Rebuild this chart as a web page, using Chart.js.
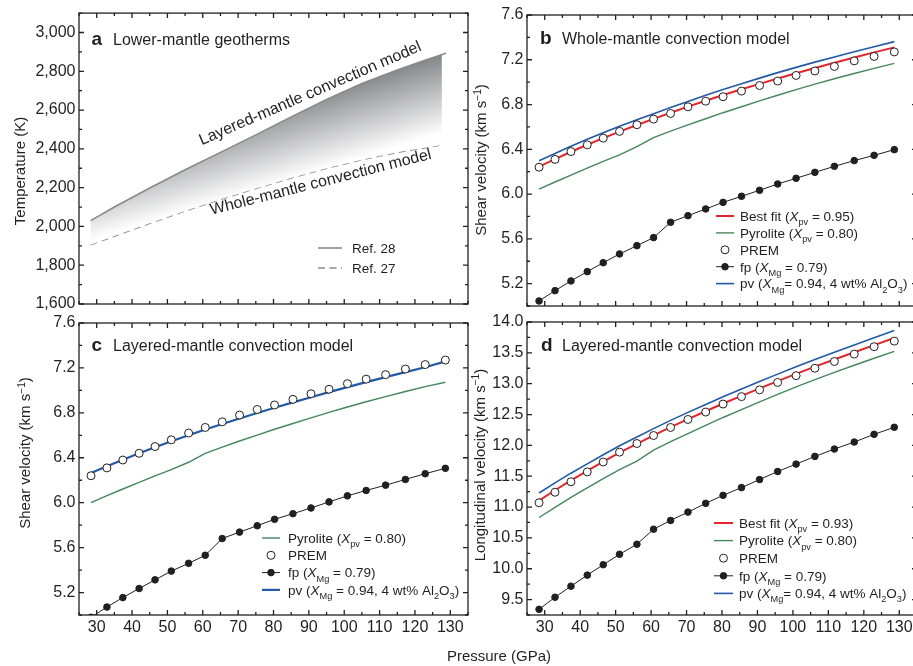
<!DOCTYPE html>
<html lang="en">
<head>
<meta charset="UTF-8">
<title>Lower-mantle geotherms and seismic velocities</title>
<script src="https://cdn.jsdelivr.net/npm/chart.js"></script>
<style>
  html, body { margin: 0; padding: 0; background: #fff; }
  #fig { position: relative; width: 913px; height: 666px; overflow: hidden; background: #fff; }
  #fig canvas { position: absolute; left: 0; top: 0; }
</style>
</head>
<body>
<div id="fig">
  <canvas id="panelA" width="930" height="666"></canvas>
  <canvas id="panelB" width="930" height="666"></canvas>
  <canvas id="panelC" width="930" height="666"></canvas>
  <canvas id="panelD" width="930" height="666"></canvas>
</div>
<script>
// pressure (GPa) of the PREM sampling points, used by panels b-d
const pressure = [28.4, 32.9, 37.4, 42.0, 46.5, 51.1, 56.0, 60.7, 65.5, 70.4, 75.4,
                  80.3, 85.5, 90.6, 95.7, 100.9, 106.2, 111.7, 117.3, 122.9, 128.6];

// PREM reference velocities (km/s)
const premVs = [6.24, 6.31, 6.38, 6.44, 6.50, 6.56, 6.62, 6.67, 6.72, 6.78, 6.83,
                6.87, 6.92, 6.97, 7.01, 7.06, 7.10, 7.14, 7.19, 7.23, 7.27];
const premVp = [11.07, 11.24, 11.41, 11.57, 11.73, 11.89, 12.03, 12.16, 12.29, 12.42, 12.54,
                12.67, 12.79, 12.90, 13.02, 13.13, 13.25, 13.36, 13.48, 13.60, 13.69];

// b: shear velocity, whole-mantle geotherm
const vsBestWhole = [6.245, 6.312, 6.378, 6.441, 6.500, 6.558, 6.617, 6.672, 6.727, 6.781, 6.834,
                     6.885, 6.936, 6.985, 7.033, 7.080, 7.127, 7.173, 7.220, 7.266, 7.311];
const vsPyroliteWhole = [6.045, 6.108, 6.170, 6.232, 6.292, 6.350, 6.425, 6.505, 6.562, 6.618, 6.673,
                         6.727, 6.780, 6.832, 6.883, 6.933, 6.982, 7.030, 7.077, 7.123, 7.168];
const vsFpWhole = [5.045, 5.137, 5.224, 5.307, 5.387, 5.465, 5.539, 5.611, 5.748, 5.807, 5.867,
                   5.926, 5.980, 6.034, 6.090, 6.141, 6.194, 6.248, 6.299, 6.346, 6.397];
const vsPvWhole = [6.298, 6.362, 6.427, 6.489, 6.548, 6.605, 6.663, 6.718, 6.773, 6.828, 6.882,
                   6.934, 6.986, 7.036, 7.085, 7.132, 7.179, 7.225, 7.271, 7.317, 7.362];

// c: shear velocity, layered-mantle geotherm
const vsPyroliteLayered = [6.001, 6.062, 6.122, 6.181, 6.238, 6.295, 6.360, 6.440, 6.495, 6.549, 6.602,
                           6.654, 6.705, 6.755, 6.804, 6.852, 6.899, 6.945, 6.990, 7.034, 7.072];
const vsFpLayered = [4.980, 5.071, 5.155, 5.236, 5.313, 5.391, 5.460, 5.532, 5.681, 5.738, 5.795,
                     5.852, 5.902, 5.953, 6.007, 6.061, 6.109, 6.156, 6.207, 6.258, 6.306];
const vsPvLayered = [6.265, 6.325, 6.383, 6.440, 6.494, 6.547, 6.600, 6.651, 6.701, 6.750, 6.799,
                     6.846, 6.893, 6.939, 6.984, 7.029, 7.074, 7.118, 7.162, 7.206, 7.258];

// d: longitudinal velocity, layered-mantle geotherm
const vpBestLayered = [11.105, 11.272, 11.432, 11.585, 11.735, 11.882, 12.025, 12.162, 12.295, 12.425, 12.553,
                       12.679, 12.802, 12.923, 13.042, 13.160, 13.277, 13.393, 13.509, 13.625, 13.740];
const vpPyroliteLayered = [10.831, 10.996, 11.156, 11.311, 11.461, 11.606, 11.746, 11.924, 12.059, 12.192, 12.323,
                           12.452, 12.579, 12.704, 12.827, 12.948, 13.067, 13.184, 13.299, 13.412, 13.523];
const vpFpLayered = [9.342, 9.538, 9.717, 9.896, 10.065, 10.234, 10.397, 10.641, 10.783, 10.918, 11.060,
                     11.190, 11.315, 11.446, 11.576, 11.696, 11.821, 11.940, 12.054, 12.179, 12.293];
const vpPvLayered = [11.228, 11.392, 11.549, 11.700, 11.848, 11.993, 12.135, 12.272, 12.405, 12.535, 12.663,
                     12.789, 12.913, 13.035, 13.155, 13.274, 13.392, 13.510, 13.628, 13.746, 13.864];

// a: geotherms (pressure in GPa, temperature in K)
const layeredP = [28.3, 35, 45, 55, 65, 75, 85, 95, 105, 115, 122, 128.8];
const layeredT = [2030, 2100, 2198, 2292, 2382, 2472, 2565, 2655, 2737, 2807, 2852, 2893];
const wholeP = [28.3, 35, 45, 55, 65, 75, 85, 95, 105, 115, 127.6];
const wholeT = [1906, 1950, 2016, 2080, 2140, 2196, 2250, 2300, 2344, 2382, 2420];

// tick labels
const pressureTicks = [30, 40, 50, 60, 70, 80, 90, 100, 110, 120, 130];
const tempTicks = [1600, 1800, 2000, 2200, 2400, 2600, 2800, 3000];
const vsTicks = [5.2, 5.6, 6.0, 6.4, 6.8, 7.2, 7.6];
const vpTicks = [9.5, 10.0, 10.5, 11.0, 11.5, 12.0, 12.5, 13.0, 13.5, 14.0];

const FONT = '"Liberation Sans", Arial, Helvetica, sans-serif';
const INK = '#231f20';
const RED = '#e4252b';
const GREEN = '#45875c';
const BLUE = '#2159a5';

const pts = (xs, ys) => xs.map((x, i) => ({ x: x, y: ys[i] }));

// rich text: list of [text, kind] with kind '', 'i', 'b', 'sub' or 'sup'
function pieceFont(size, kind) {
  const s = (kind === 'sub' || kind === 'sup') ? size * 0.68 : size;
  const style = kind === 'i' ? 'italic ' : (kind === 'b' ? 'bold ' : '');
  return style + s + 'px ' + FONT;
}
function richWidth(ctx, pieces, size) {
  let w = 0;
  pieces.forEach(([t, k]) => { ctx.font = pieceFont(size, k); w += ctx.measureText(t).width; });
  return w;
}
function drawRich(ctx, pieces, x, y, size) {
  pieces.forEach(([t, k]) => {
    ctx.font = pieceFont(size, k);
    const dy = k === 'sub' ? size * 0.3 : (k === 'sup' ? -size * 0.38 : 0);
    ctx.fillText(t, x, y + dy);
    x += ctx.measureText(t).width;
  });
  return x;
}

// closed frame with inward ticks on all four sides
const frame = {
  id: 'frame',
  afterDraw(chart) {
    const { ctx, chartArea: a, scales: { x, y } } = chart;
    ctx.save();
    ctx.strokeStyle = INK;
    ctx.lineWidth = 1.3;
    ctx.beginPath();
    x.ticks.forEach(t => {
      const px = x.getPixelForValue(t.value);
      const len = Math.abs(t.value / 10 - Math.round(t.value / 10)) < 1e-6 ? 5 : 3;
      ctx.moveTo(px, a.bottom); ctx.lineTo(px, a.bottom - len);
      ctx.moveTo(px, a.top); ctx.lineTo(px, a.top + len);
    });
    y.ticks.forEach(t => {
      const py = y.getPixelForValue(t.value);
      const len = t.label !== '' ? 5 : 3;
      ctx.moveTo(a.left, py); ctx.lineTo(a.left + len, py);
      ctx.moveTo(a.right, py); ctx.lineTo(a.right - len, py);
    });
    ctx.stroke();
    ctx.strokeRect(a.left, a.top, a.right - a.left, a.bottom - a.top);
    ctx.restore();
  }
};

// panel letter, title, axis titles, legend and curve notes
const panelDecor = {
  id: 'panelDecor',
  afterDraw(chart, args, o) {
    const ctx = chart.ctx;
    const { x, y } = chart.scales;
    ctx.save();
    ctx.fillStyle = INK;
    ctx.textBaseline = 'alphabetic';

    ctx.font = 'bold 19px ' + FONT;
    ctx.fillText(o.letter, o.titleAt[0], o.titleAt[1]);
    ctx.font = '16px ' + FONT;
    ctx.fillText(o.title, o.titleAt[2], o.titleAt[1]);

    // rotated y-axis title
    ctx.save();
    ctx.translate(o.yTitleAt[0], o.yTitleAt[1]);
    ctx.rotate(-Math.PI / 2);
    drawRich(ctx, o.yTitle, -richWidth(ctx, o.yTitle, 15) / 2, 15 * 0.35, 15);
    ctx.restore();

    if (o.xTitle) {
      ctx.font = '15px ' + FONT;
      ctx.textAlign = 'center';
      ctx.fillText(o.xTitle.text, o.xTitle.x, o.xTitle.y);
      ctx.textAlign = 'left';
    }

    (o.notes || []).forEach(n => {
      ctx.save();
      ctx.translate(x.getPixelForValue(n.p), y.getPixelForValue(n.v));
      ctx.rotate(n.angle * Math.PI / 180);
      ctx.font = '16px ' + FONT;
      ctx.fillText(n.text, 0, 0);
      ctx.restore();
    });

    const lg = o.legend;
    lg.rows.forEach((row, i) => {
      const ds = chart.data.datasets[row.ds];
      const ly = lg.y + i * lg.dy;
      if (row.kind !== 'point') {
        ctx.save();
        ctx.strokeStyle = ds.borderColor;
        ctx.lineWidth = ds.borderWidth;
        ctx.setLineDash(ds.borderDash || []);
        ctx.beginPath();
        ctx.moveTo(lg.x0, ly); ctx.lineTo(lg.x1, ly);
        ctx.stroke();
        ctx.restore();
      }
      if (row.kind === 'point' || row.kind === 'linepoint') {
        ctx.save();
        ctx.beginPath();
        ctx.arc((lg.x0 + lg.x1) / 2, ly, ds.pointRadius, 0, Math.PI * 2);
        ctx.fillStyle = ds.pointBackgroundColor;
        ctx.fill();
        ctx.lineWidth = ds.pointBorderWidth || 1;
        ctx.strokeStyle = ds.pointBorderColor;
        ctx.stroke();
        ctx.restore();
      }
      drawRich(ctx, row.pieces, lg.tx, ly + lg.size * 0.36, lg.size);
    });
    ctx.restore();
  }
};

function labelFrom(list, fmt) {
  return v => {
    const t = list.find(l => Math.abs(l - v) < 1e-6);
    return t === undefined ? '' : fmt(t);
  };
}

function panel(id, cfg) {
  const tickFont = { family: FONT, size: 16 };
  return new Chart(document.getElementById(id), {
    type: 'line',
    data: { datasets: cfg.datasets },
    options: {
      responsive: false,
      animation: false,
      devicePixelRatio: 1,
      events: [],
      layout: { padding: cfg.padding },
      elements: { line: { tension: 0, fill: false } },
      plugins: {
        legend: { display: false },
        tooltip: { enabled: false },
        panelDecor: cfg.decor
      },
      scales: {
        x: {
          type: 'linear', min: 25, max: 135,
          afterFit: s => { s.height = cfg.xHeight; },
          grid: { display: false, drawTicks: false },
          border: { display: false },
          ticks: {
            stepSize: 5, autoSkip: false, maxRotation: 0, padding: 3, color: INK, font: tickFont,
            callback: cfg.xLabels ? labelFrom(pressureTicks, String) : () => ''
          }
        },
        y: {
          type: 'linear', min: cfg.yMin, max: cfg.yMax,
          afterFit: s => { s.width = cfg.yWidth; },
          grid: { display: false, drawTicks: false },
          border: { display: false },
          ticks: {
            stepSize: cfg.yStep, autoSkip: false, padding: 3.5, color: INK, font: tickFont,
            callback: labelFrom(cfg.yLabels, cfg.yFormat)
          }
        }
      }
    },
    plugins: [frame, panelDecor]
  });
}

const premStyle = { showLine: false, pointRadius: 4, pointBackgroundColor: '#fff',
                    pointBorderColor: INK, pointBorderWidth: 1 };
const fpStyle = { borderColor: INK, borderWidth: 1, pointRadius: 3.3,
                  pointBackgroundColor: INK, pointBorderColor: INK, pointBorderWidth: 1 };
const curve = (color, width) => ({ borderColor: color, borderWidth: width, pointRadius: 0 });

const X = ['X', 'i'];
const sub = t => [t, 'sub'];
const vsTitle = [['Shear velocity (km s'], ['\u22121', 'sup'], [')']];
const fmt1 = v => v.toFixed(1);

// shaded band between the two geotherms
function geothermShade(context) {
  const chart = context.chart;
  const { x, y } = chart.scales;
  if (!chart.chartArea || !x || !y) return 'rgba(0,0,0,0)';
  const x0 = x.getPixelForValue(layeredP[layeredP.length - 1]);
  const y0 = y.getPixelForValue(layeredT[layeredT.length - 1]);
  const g = chart.ctx.createLinearGradient(x0, y0, x0 + 22, y0 + 72);
  g.addColorStop(0, 'rgb(134,135,139)');
  g.addColorStop(1, 'rgb(255,255,255)');
  return g;
}

// a: lower-mantle geotherms
panel('panelA', {
  padding: { left: 0, top: 13, right: 462, bottom: 342 },
  xHeight: 20, yWidth: 79, xLabels: false,
  yMin: 1600, yMax: 3100, yStep: 100, yLabels: tempTicks, yFormat: v => v.toLocaleString('en-US'),
  datasets: [
    Object.assign({ label: 'Ref. 28', data: pts(layeredP, layeredT), fill: '+1',
                    backgroundColor: geothermShade }, curve('#8a8a8a', 1.6)),
    Object.assign({ label: 'Ref. 27', data: pts(wholeP, wholeT), borderDash: [7, 4.5] }, curve('#8c8c8c', 1.6))
  ],
  decor: {
    letter: 'a', title: 'Lower-mantle geotherms', titleAt: [91.5, 44.5, 113],
    yTitle: [['Temperature (K)']], yTitleAt: [20, 171],
    notes: [
      { text: 'Layered-mantle convection model', p: 59.7, v: 2419, angle: -23.3 },
      { text: 'Whole-mantle convection model', p: 62.5, v: 2060, angle: -14.3 }
    ],
    legend: { x0: 318, x1: 342, tx: 352, y: 248, dy: 20, size: 13.5, rows: [
      { ds: 0, kind: 'line', pieces: [['Ref. 28']] },
      { ds: 1, kind: 'line', pieces: [['Ref. 27']] }
    ] }
  }
});

// b: shear velocity, whole-mantle convection
panel('panelB', {
  padding: { left: 467, top: 15, right: 13, bottom: 340 },
  xHeight: 20, yWidth: 60, xLabels: false,
  yMin: 5.0, yMax: 7.6, yStep: 0.2, yLabels: vsTicks, yFormat: fmt1,
  datasets: [
    Object.assign({ label: 'PREM', data: pts(pressure, premVs) }, premStyle),
    Object.assign({ label: 'Best fit', data: pts(pressure, vsBestWhole) }, curve(RED, 2)),
    Object.assign({ label: 'pv', data: pts(pressure, vsPvWhole) }, curve(BLUE, 1.6)),
    Object.assign({ label: 'Pyrolite', data: pts(pressure, vsPyroliteWhole) }, curve(GREEN, 1.4)),
    Object.assign({ label: 'fp', data: pts(pressure, vsFpWhole) }, fpStyle)
  ],
  decor: {
    letter: 'b', title: 'Whole-mantle convection model', titleAt: [540, 43.5, 562],
    yTitle: vsTitle, yTitleAt: [481, 160],
    legend: { x0: 716, x1: 734, tx: 740, y: 216, dy: 16.9, size: 13.5, rows: [
      { ds: 1, kind: 'line', pieces: [['Best fit ('], X, sub('pv'), [' = 0.95)']] },
      { ds: 3, kind: 'line', pieces: [['Pyrolite ('], X, sub('pv'), [' = 0.80)']] },
      { ds: 0, kind: 'point', pieces: [['PREM']] },
      { ds: 4, kind: 'linepoint', pieces: [['fp ('], X, sub('Mg'), [' = 0.79)']] },
      { ds: 2, kind: 'line', pieces: [['pv ('], X, sub('Mg'), ['= 0.94, 4 wt% Al'], sub('2'), ['O'], sub('3'), [')']] }
    ] }
  }
});

// c: shear velocity, layered-mantle convection
panel('panelC', {
  padding: { left: 0, top: 323, right: 462, bottom: 11 },
  xHeight: 40, yWidth: 79, xLabels: true,
  yMin: 5.0, yMax: 7.6, yStep: 0.2, yLabels: vsTicks, yFormat: fmt1,
  datasets: [
    Object.assign({ label: 'PREM', data: pts(pressure, premVs) }, premStyle),
    Object.assign({ label: 'pv', data: pts(pressure, vsPvLayered) }, curve(BLUE, 2.2)),
    Object.assign({ label: 'Pyrolite', data: pts(pressure, vsPyroliteLayered) }, curve(GREEN, 1.4)),
    Object.assign({ label: 'fp', data: pts(pressure, vsFpLayered), clip: 0 }, fpStyle)
  ],
  decor: {
    letter: 'c', title: 'Layered-mantle convection model', titleAt: [91.5, 351, 113],
    yTitle: vsTitle, yTitleAt: [25, 453],
    legend: { x0: 262, x1: 280, tx: 288, y: 538, dy: 17.3, size: 13.5, rows: [
      { ds: 2, kind: 'line', pieces: [['Pyrolite ('], X, sub('pv'), [' = 0.80)']] },
      { ds: 0, kind: 'point', pieces: [['PREM']] },
      { ds: 3, kind: 'linepoint', pieces: [['fp ('], X, sub('Mg'), [' = 0.79)']] },
      { ds: 1, kind: 'line', pieces: [['pv ('], X, sub('Mg'), [' = 0.94, 4 wt% Al'], sub('2'), ['O'], sub('3'), [')']] }
    ] }
  }
});

// d: longitudinal velocity, layered-mantle convection
panel('panelD', {
  padding: { left: 467, top: 322, right: 13, bottom: 11 },
  xHeight: 40, yWidth: 60, xLabels: true,
  yMin: 9.25, yMax: 14.0, yStep: 0.25, yLabels: vpTicks, yFormat: fmt1,
  datasets: [
    Object.assign({ label: 'PREM', data: pts(pressure, premVp) }, premStyle),
    Object.assign({ label: 'Best fit', data: pts(pressure, vpBestLayered) }, curve(RED, 2)),
    Object.assign({ label: 'pv', data: pts(pressure, vpPvLayered) }, curve(BLUE, 1.6)),
    Object.assign({ label: 'Pyrolite', data: pts(pressure, vpPyroliteLayered) }, curve(GREEN, 1.4)),
    Object.assign({ label: 'fp', data: pts(pressure, vpFpLayered) }, fpStyle)
  ],
  decor: {
    letter: 'd', title: 'Layered-mantle convection model', titleAt: [541, 351, 562],
    yTitle: [['Longitudinal velocity (km s'], ['\u22121', 'sup'], [')']], yTitleAt: [479.5, 465],
    xTitle: { text: 'Pressure (GPa)', x: 499, y: 661 },
    legend: { x0: 714, x1: 733, tx: 739, y: 523, dy: 17.6, size: 13.5, rows: [
      { ds: 1, kind: 'line', pieces: [['Best fit ('], X, sub('pv'), [' = 0.93)']] },
      { ds: 3, kind: 'line', pieces: [['Pyrolite ('], X, sub('pv'), [' = 0.80)']] },
      { ds: 0, kind: 'point', pieces: [['PREM']] },
      { ds: 4, kind: 'linepoint', pieces: [['fp ('], X, sub('Mg'), [' = 0.79)']] },
      { ds: 2, kind: 'line', pieces: [['pv ('], X, sub('Mg'), ['= 0.94, 4 wt% Al'], sub('2'), ['O'], sub('3'), [')']] }
    ] }
  }
});
</script>
</body>
</html>
